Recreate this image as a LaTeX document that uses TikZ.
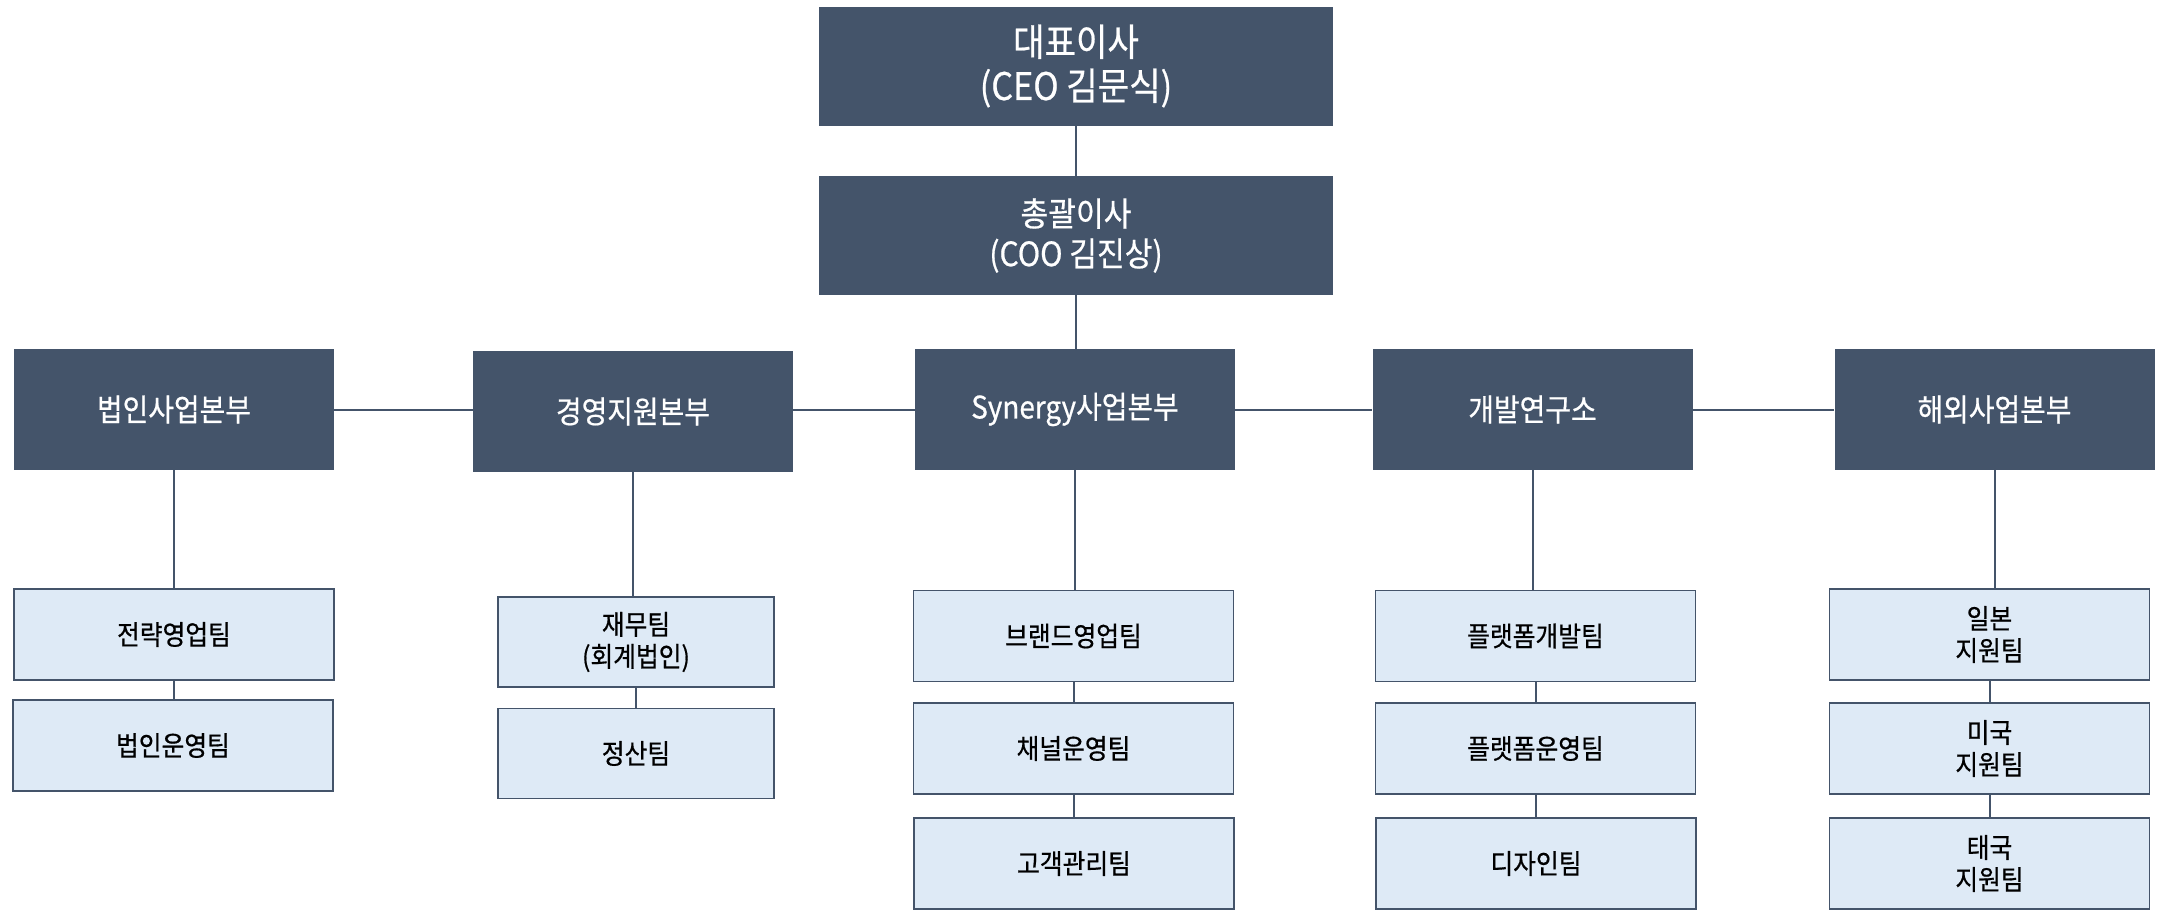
\documentclass[tikz,border=0pt]{standalone}
\usepackage{fontspec}
\setmainfont{Noto Sans CJK KR}[FakeStretch=0.9,FakeBold=0.6]
\definecolor{navy}{HTML}{44546A}
\definecolor{pale}{HTML}{DEEAF6}
\begin{document}
\begin{tikzpicture}[x=1bp,y=-1bp,
  headbox/.style={fill=navy, draw=none, text=white, inner sep=0pt, align=center,
    minimum width=320bp, minimum height=121bp, font=\fontsize{31bp}{38bp}\selectfont},
  topbox/.style={headbox, minimum width=514bp, minimum height=119bp},
  teambox/.style={fill=pale, draw=navy, line width=1.6bp, text=black, inner sep=0pt, align=center,
    minimum width=320bp, minimum height=91bp, font=\fontsize{27.5bp}{32bp}\selectfont},
  link/.style={draw=navy, line width=2bp}]
\useasboundingbox (0,0) rectangle (2162,910);

% top
\node[topbox, font=\fontsize{38bp}{44bp}\selectfont] (ceo) at (1076,66) {대표이사\\(CEO 김문식)};
\node[topbox, font=\fontsize{33.5bp}{40bp}\selectfont] (coo) at (1076,235.5) {총괄이사\\(COO 김진상)};

% heads
\node[headbox] (h1) at (174,409.5) {법인사업본부};
\node[headbox] (h2) at (633,411.5) {경영지원본부};
\node[headbox] (h3) at (1075,409.5) {Synergy사업본부};
\node[headbox] (h4) at (1532.5,409.5) {개발연구소};
\node[headbox] (h5) at (1994.5,409.5) {해외사업본부};

% teams
\node[teambox] (t11) at (174,634.5) {전략영업팀};
\node[teambox] (t12) at (173,745.5) {법인운영팀};

\node[teambox, minimum width=276bp, minimum height=90bp] (t21) at (636,642) {재무팀\\(회계법인)};
\node[teambox, minimum width=276bp, minimum height=90bp] (t22) at (636,753.5) {정산팀};

\node[teambox] (t31) at (1073.5,636) {브랜드영업팀};
\node[teambox] (t32) at (1073.5,748.5) {채널운영팀};
\node[teambox] (t33) at (1074,863.5) {고객관리팀};

\node[teambox] (t41) at (1535.5,636) {플랫폼개발팀};
\node[teambox] (t42) at (1535.5,748.5) {플랫폼운영팀};
\node[teambox] (t43) at (1536,863.5) {디자인팀};

\node[teambox] (t51) at (1989.5,634.5) {일본\\지원팀};
\node[teambox] (t52) at (1989.5,748.5) {미국\\지원팀};
\node[teambox] (t53) at (1989.5,863.5) {태국\\지원팀};

% connectors
\draw[link] (ceo.south) -- (coo.north);
\draw[link] (coo.south) -- (coo.south |- h3.north);
\draw[link] (h1.east) -- (h1.east -| h2.west);
\draw[link] (h3.west -| h2.east) -- (h3.west);
\draw[link] (h3.east) -- (h4.west);
\draw[link] (h4.east) -- (h5.west);

\draw[link] (h1.south) -- (h1.south |- t11.north);
\draw[link] (t11.south) -- (t11.south |- t12.north);
\draw[link] (h2.south) -- (h2.south |- t21.north);
\draw[link] (t21.south) -- (t21.south |- t22.north);
\draw[link] (h3.south) -- (h3.south |- t31.north);
\draw[link] (t31.south) -- (t31.south |- t32.north);
\draw[link] (t32.south) -- (t32.south |- t33.north);
\draw[link] (h4.south) -- (h4.south |- t41.north);
\draw[link] (t41.south) -- (t41.south |- t42.north);
\draw[link] (t42.south) -- (t42.south |- t43.north);
\draw[link] (h5.south) -- (h5.south |- t51.north);
\draw[link] (t51.south) -- (t51.south |- t52.north);
\draw[link] (t52.south) -- (t52.south |- t53.north);
\end{tikzpicture}
\end{document}
